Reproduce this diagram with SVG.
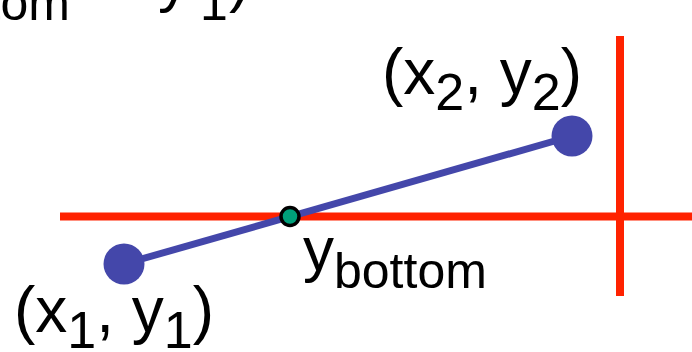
<svg xmlns="http://www.w3.org/2000/svg" width="692" height="352" viewBox="0 0 692 352">
<style>
.red{stroke:#ff2200;stroke-width:8;fill:none}
.seg{stroke:#4447aa;stroke-width:7;fill:none}
.pt{fill:#4447aa}
.t{font-family:"Liberation Sans",Arial,Helvetica,sans-serif;font-size:62px;fill:#000}
.s{font-size:50px}
.big{font-size:64px}
.big .s{font-size:52px}
</style>
<g id="connectors">
<line class="red" x1="60" y1="216.5" x2="692" y2="216.5"/>
<line class="red" x1="620" y1="36" x2="620" y2="296"/>
<line class="seg" x1="124" y1="264" x2="572" y2="136"/>
</g>
<g id="p1"><circle class="pt" cx="124" cy="264" r="20.5"/></g>
<g id="p2"><circle class="pt" cx="572" cy="136" r="20.5"/></g>
<g id="intersection"><circle cx="290" cy="216.5" r="9" fill="#00a07a" stroke="#000" stroke-width="3.5"/></g>
<g id="title"><text class="t" y="0"><tspan x="-114">y</tspan><tspan class="s" dy="20">bottom</tspan><tspan dy="-20"> =</tspan><tspan x="158">y</tspan><tspan class="s" x="200" dy="20">1</tspan><tspan x="229" dy="-20">)</tspan></text></g>
<g id="label-p1"><text class="t big" x="14" y="332">(x<tspan class="s" dy="16">1</tspan><tspan dy="-16">, y</tspan><tspan class="s" dy="16">1</tspan><tspan dy="-16">)</tspan></text></g>
<g id="label-p2"><text class="t big" x="382" y="94">(x<tspan class="s" dy="16">2</tspan><tspan dy="-16">, y</tspan><tspan class="s" dy="16">2</tspan><tspan dy="-16">)</tspan></text></g>
<g id="label-ybottom"><text class="t" x="303" y="270">y<tspan class="s" dy="18">bottom</tspan></text></g>
</svg>
